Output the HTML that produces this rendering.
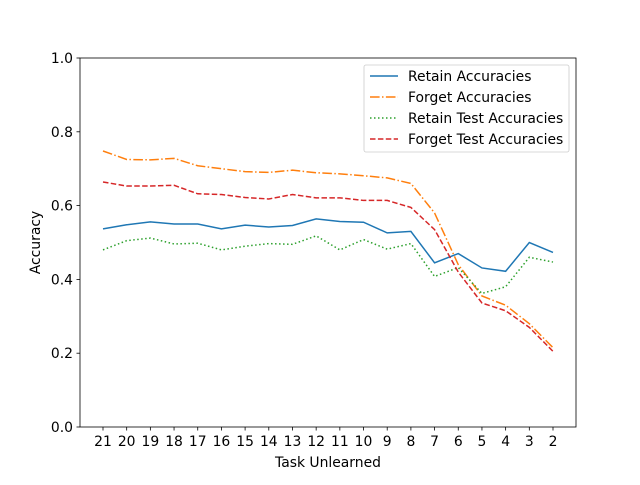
<!DOCTYPE html>
<html><head><meta charset="utf-8"><style>
body{margin:0;background:#fff}
svg text{font-family:"DejaVu Sans","Liberation Sans",sans-serif;font-size:13.9px;fill:#000}
</style></head><body>
<svg id="chart" width="640" height="480" xmlns="http://www.w3.org/2000/svg">
<rect width="640" height="480" fill="#fff"/>
<g id="plot"></g>
</svg>
<script>
const categories=["21","20","19","18","17","16","15","14","13","12","11","10","9","8","7","6","5","4","3","2"];
const retainAcc=[0.537,0.548,0.556,0.550,0.550,0.537,0.547,0.542,0.546,0.564,0.557,0.555,0.526,0.530,0.445,0.470,0.431,0.422,0.500,0.473];
const forgetAcc=[0.748,0.725,0.724,0.728,0.708,0.700,0.692,0.690,0.696,0.689,0.686,0.681,0.675,0.660,0.580,0.440,0.355,0.330,0.280,0.215];
const retainTestAcc=[0.480,0.505,0.512,0.496,0.498,0.480,0.490,0.497,0.495,0.518,0.480,0.508,0.482,0.497,0.408,0.432,0.362,0.380,0.460,0.447];
const forgetTestAcc=[0.664,0.653,0.653,0.655,0.632,0.630,0.622,0.618,0.630,0.621,0.621,0.614,0.614,0.595,0.535,0.420,0.336,0.315,0.270,0.205];
const yTicks=[0,0.2,0.4,0.6,0.8,1.0];
const yTickLabels=["0.0","0.2","0.4","0.6","0.8","1.0"];
const seriesNames=["Retain Accuracies","Forget Accuracies","Retain Test Accuracies","Forget Test Accuracies"];

const L=80,R=576,T=58,B=427;
const NS="http://www.w3.org/2000/svg";
const g=document.getElementById('plot');
function x(i){return 103+i*(553-103)/(categories.length-1);}
function y(v){return B-v*(B-T);}
function el(t,a,txt){const e=document.createElementNS(NS,t);for(const k in a)e.setAttribute(k,a[k]);if(txt!=null)e.textContent=txt;g.appendChild(e);return e;}

const series=[
 {d:retainAcc,c:"#1f77b4",dash:"",n:"retain-accuracies"},
 {d:forgetAcc,c:"#ff7f0e",dash:"9.6,2.4,1.5,2.4",n:"forget-accuracies"},
 {d:retainTestAcc,c:"#2ca02c",dash:"1.5,2.5",n:"retain-test-accuracies"},
 {d:forgetTestAcc,c:"#d62728",dash:"5.5,2.4",n:"forget-test-accuracies"}];
series.forEach(s=>{
 const p=el('polyline',{points:s.d.map((v,i)=>x(i)+','+y(v)).join(' '),fill:'none',stroke:s.c,'stroke-width':1.5,'stroke-dasharray':s.dash});
 
 
});
const ax=el('rect',{x:L,y:T,width:R-L,height:B-T,fill:'none',stroke:'#000','stroke-width':0.8});


categories.forEach((c,i)=>{
 el('line',{x1:x(i),x2:x(i),y1:B,y2:B+3.5,stroke:'#000','stroke-width':0.8});
 const t=el('text',{x:x(i),y:B+19,'text-anchor':'middle'},c);
 
 
});
yTicks.forEach((v,i)=>{
 el('line',{x1:L-3.5,x2:L,y1:y(v),y2:y(v),stroke:'#000','stroke-width':0.8});
 const t=el('text',{x:L-7,y:y(v)+5,'text-anchor':'end'},yTickLabels[i]);
 
 
});
const xt=el('text',{x:(L+R)/2,y:467,'text-anchor':'middle'},'Task Unlearned');


const yt=el('text',{x:40,y:(T+B)/2,'text-anchor':'middle',transform:'rotate(-90 40 '+((T+B)/2)+')'},'Accuracy');


const lg=el('rect',{x:364,y:65,width:205,height:87,rx:2,fill:'#fff','fill-opacity':0.8,stroke:'#ccc','stroke-width':0.8});


series.forEach((s,i)=>{
 const yy=76+i*21;
 el('line',{x1:370,x2:398,y1:yy,y2:yy,stroke:s.c,'stroke-width':1.5,'stroke-dasharray':s.dash});
 const t=el('text',{x:408,y:yy+5},seriesNames[i]);
 
 
});
</script>
</body></html>
